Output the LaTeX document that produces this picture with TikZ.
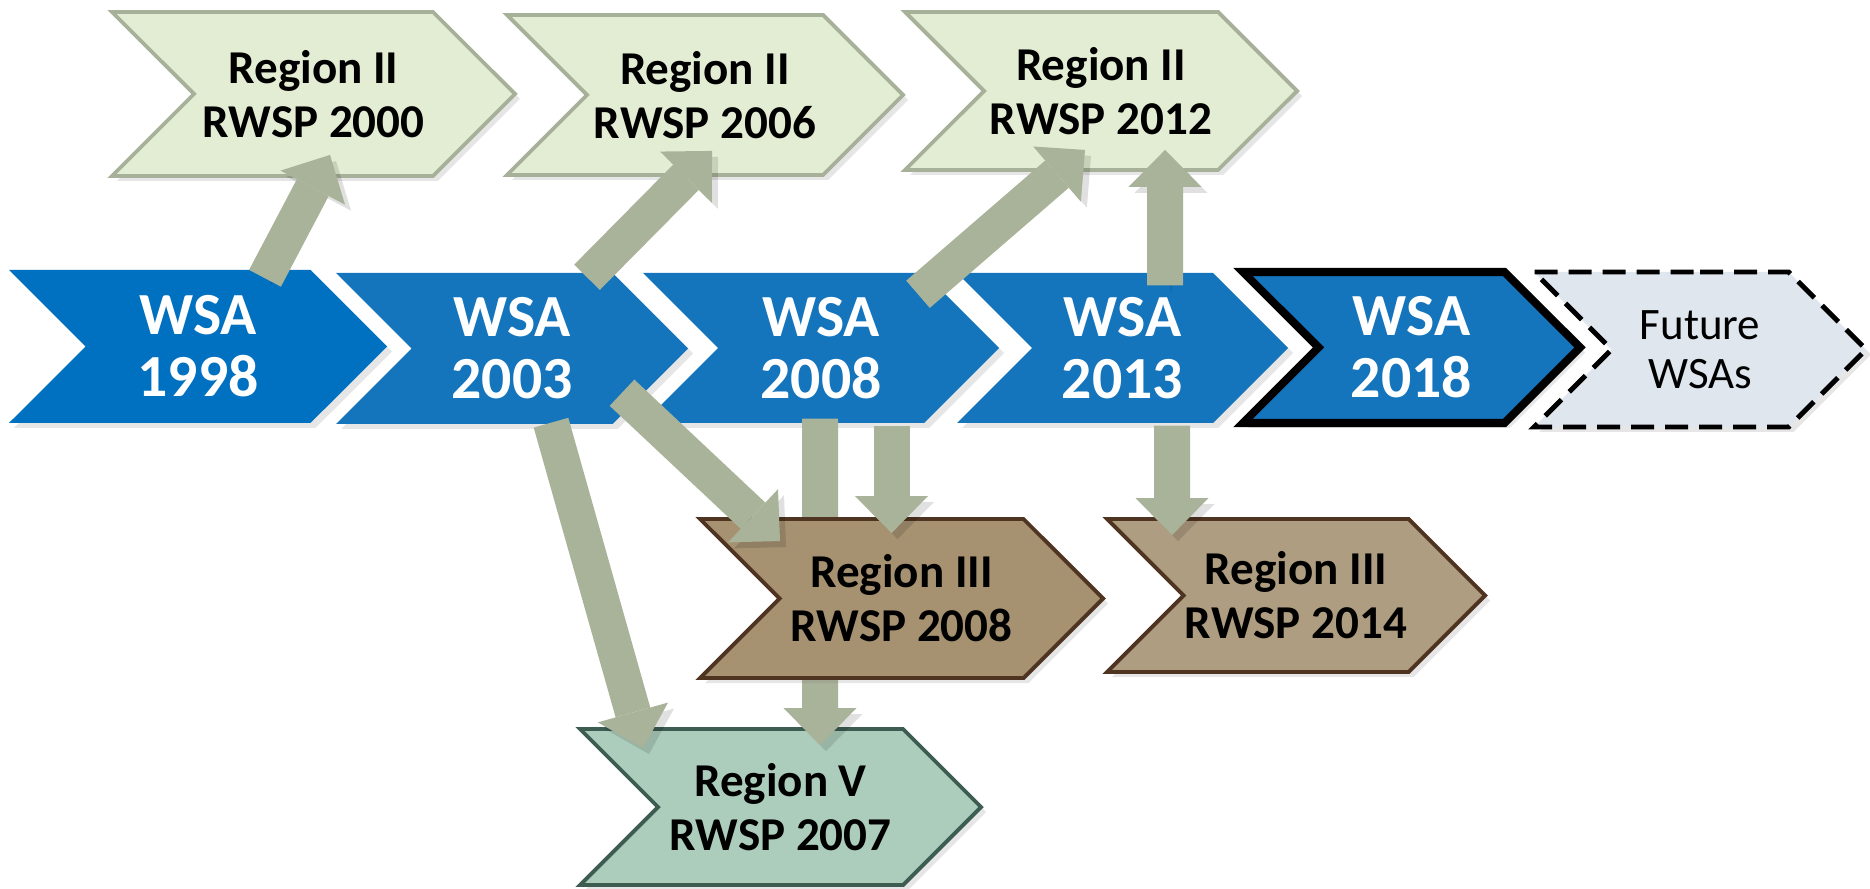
\documentclass[tikz,border=0pt]{standalone}
\usepackage{fontspec}
\setmainfont{Carlito}
\usepackage{tikz}
\usetikzlibrary{arrows.meta,shapes.symbols,shadows}

\definecolor{wsafirst}{HTML}{0070C0}
\definecolor{wsablue}{HTML}{1474BC}
\definecolor{regtwo}{HTML}{E3EDD3}
\definecolor{regtwoline}{HTML}{A7B199}
\definecolor{regthree}{HTML}{A69171}
\definecolor{regthreelight}{HTML}{AE9D80}
\definecolor{regthreeline}{HTML}{4E3421}
\definecolor{regfive}{HTML}{ACCDBC}
\definecolor{regfiveline}{HTML}{3D5C52}
\definecolor{futurefill}{HTML}{DFE6EE}
\definecolor{linkgray}{HTML}{A9B399}

\begin{document}
\begin{tikzpicture}[x=0.1mm, y=-0.1mm,
  chev/.style={signal, signal from=west, signal to=east, signal pointer angle=90,
    inner sep=0pt, align=center,
    drop shadow={opacity=.2, shadow xshift=.5mm, shadow yshift=-.5mm}},
  wsa/.style={chev, fill=wsablue, text=white, font=\bfseries\fontsize{17}{17.6}\selectfont},
  rwsp/.style={chev, line width=1.1pt, font=\bfseries\fontsize{13.4}{15.3}\selectfont},
  link/.style={draw=linkgray, line width=3.6mm,
    -{Triangle[width=7.3mm, length=3.7mm, line width=0pt]},
    preaction={draw=black, draw opacity=.12, fill opacity=.12,
      transform canvas={xshift=.6mm, yshift=-.6mm}}}]
  \useasboundingbox (0,0) rectangle (1870,889);

  % assessment row
  \node[wsa, fill=wsafirst, minimum width=3.78cm, minimum height=1.53cm] (w1998) at (198,346.5) {WSA\\1998};
  \node[wsa, minimum width=3.52cm, minimum height=1.51cm] (w2003) at (512,348.5) {WSA\\2003};
  \node[wsa, minimum width=3.56cm, minimum height=1.50cm] (w2008) at (821,348) {WSA\\2008};
  \node[wsa, minimum width=3.31cm, minimum height=1.50cm] (w2013) at (1122.5,348) {WSA\\2013};
  \node[wsa, draw=black, line width=2.3pt, minimum width=3.37cm, minimum height=1.51cm] (w2018) at (1411.5,347.5) {WSA\\2018};
  \node[chev, fill=futurefill, draw=black, line width=1.4pt, dash pattern=on 2.3mm off 1.1mm,
    minimum width=3.32cm, minimum height=1.55cm, font=\fontsize{12.8}{14}\selectfont] (future) at (1700,349.5) {Future\\WSAs};

  % regional plans
  \node[rwsp, fill=regtwo, draw=regtwoline, minimum width=4.03cm, minimum height=1.64cm] (r2000) at (313.5,94) {Region II\\RWSP 2000};
  \node[rwsp, fill=regtwo, draw=regtwoline, minimum width=3.96cm, minimum height=1.60cm] (r2006) at (705,95) {Region II\\RWSP 2006};
  \node[rwsp, fill=regtwo, draw=regtwoline, minimum width=3.92cm, minimum height=1.58cm] (r2012) at (1101,91) {Region II\\RWSP 2012};
  \node[rwsp, fill=regfive, draw=regfiveline, minimum width=4.01cm, minimum height=1.56cm] (r2007) at (780.5,807) {Region V\\RWSP 2007};

  \draw[link] ([shift={(-1,-5)}]w2008.south) -- ([shift={(39.5,18)}]r2007.north);

  \node[rwsp, fill=regthree, draw=regthreeline, minimum width=4.03cm, minimum height=1.59cm] (r2008) at (901.5,598.5) {Region III\\RWSP 2008};
  \node[rwsp, fill=regthreelight, draw=regthreeline, minimum width=3.78cm, minimum height=1.53cm] (r2014) at (1296,595.5) {Region III\\RWSP 2014};

  \draw[link] ([shift={(67,9)}]w1998.north) -- ([shift={(16.5,-23)}]r2000.south);
  \draw[link] ([shift={(75,5)}]w2003.north) -- ([shift={(7,-26)}]r2006.south);
  \draw[link] ([shift={(97,22)}]w2008.north) -- ([shift={(-16,-22)}]r2012.south);
  \draw[link] ([shift={(42.5,13)}]w2013.north) -- ([shift={(64,-22)}]r2012.south);
  \draw[link] ([shift={(39,-2)}]w2003.south) -- ([shift={(-137.5,21)}]r2007.north);
  \draw[link] ([shift={(110,-32)}]w2003.south) -- ([shift={(-121.5,24)}]r2008.north);
  \draw[link] ([shift={(70.5,2)}]w2008.south) -- ([shift={(-10,16)}]r2008.north);
  \draw[link] ([shift={(49.5,2)}]w2013.south) -- ([shift={(-124,18)}]r2014.north);
\end{tikzpicture}
\end{document}
